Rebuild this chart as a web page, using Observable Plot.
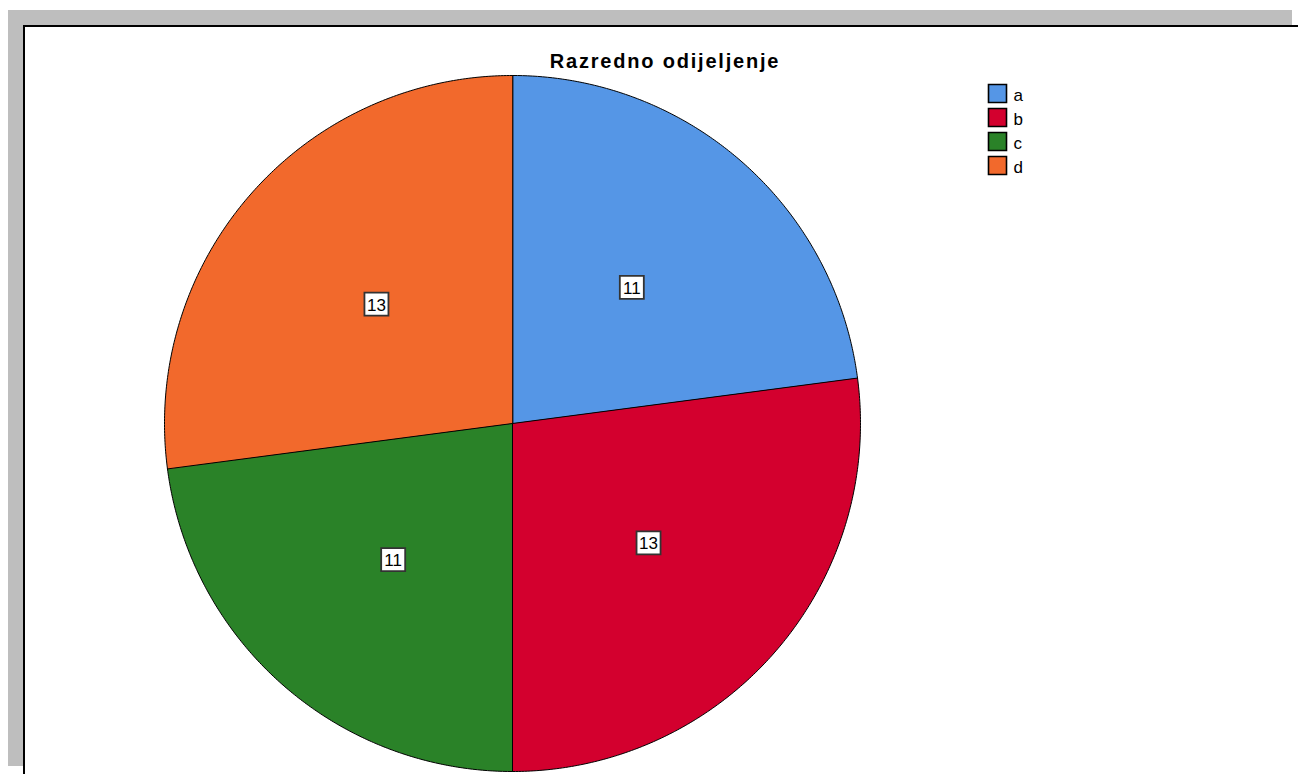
<!DOCTYPE html>
<html><head><meta charset="utf-8">
<script src="https://cdn.jsdelivr.net/npm/d3@7"></script>
<script src="https://cdn.jsdelivr.net/npm/@observablehq/plot@0.6"></script>
<style>
html,body{margin:0;padding:0;background:#fff;overflow:hidden;}
#page{position:relative;width:1298px;height:774px;overflow:hidden;font-family:"Liberation Sans",Arial,sans-serif;}
.gray-top{position:absolute;left:8px;top:10px;width:1284px;height:15px;background:#bebebe;}
.gray-left{position:absolute;left:8px;top:10px;width:15px;height:756px;background:#bebebe;}
.black-top{position:absolute;left:23px;top:25px;width:1275px;height:2px;background:#000;}
.black-left{position:absolute;left:23px;top:25px;width:2px;height:749px;background:#000;}
#chart{position:absolute;left:0;top:0;}
#legend{position:absolute;left:988px;top:80px;}
#title{position:absolute;left:665px;top:51px;transform:translateX(-50%);white-space:nowrap;font-weight:bold;font-size:20px;line-height:20px;letter-spacing:1.8px;color:#000;}
</style>
</head><body>
<div id="page">
  <div class="gray-top"></div>
  <div class="gray-left"></div>
  <div id="chart"></div>
  <div class="black-top"></div>
  <div class="black-left"></div>
  <div id="title">Razredno odijeljenje</div>
  <div id="legend"></div>
</div>
<script>
const categories = ["a", "b", "c", "d"];
const counts = [11, 13, 11, 13];
const colors = ["#5596e6", "#d3002e", "#2a8228", "#f2692c"];
const title = "Razredno odijeljenje";

const cx = 512, cy = 423, R = 348;

const arcs = d3.pie().sort(null).value((d, i) => counts[i])(categories);

// Build slice polygons in unit-circle coordinates (y up), clockwise from 12 o'clock
const slicePoints = [];
arcs.forEach((a, i) => {
  const key = categories[i];
  slicePoints.push({key, x: 0, y: 0});
  const n = 200;
  for (let k = 0; k <= n; k++) {
    const t = a.startAngle + (a.endAngle - a.startAngle) * k / n;
    slicePoints.push({key, x: Math.sin(t), y: Math.cos(t)});
  }
});

const labels = arcs.map((a, i) => {
  const m = (a.startAngle + a.endAngle) / 2;
  return {key: categories[i], value: counts[i], x: 0.52 * Math.sin(m), y: 0.52 * Math.cos(m)};
});

const boxSymbol = {
  draw(context, size) {
    context.rect(-12, -11.5, 24, 23);
  }
};

const chart = Plot.plot({
  width: 1298,
  height: 774,
  margin: 0,
  style: {background: "transparent", overflow: "visible"},
  x: {domain: [-1, 1], range: [cx - R, cx + R], axis: null},
  y: {domain: [-1, 1], range: [cy + R, cy - R], axis: null},
  color: {domain: categories, range: colors},
  marks: [
    Plot.line(slicePoints, {x: "x", y: "y", z: "key", fill: "key", stroke: "#000", strokeWidth: 1, curve: "linear-closed"}),
    Plot.dot(labels, {x: "x", y: "y", symbol: boxSymbol, fill: "#fff", stroke: "#333", strokeWidth: 1.8}),
    Plot.text(labels, {x: "x", y: "y", dy: 1, text: d => String(d.value), fontSize: 17, fill: "#000", fontFamily: "Liberation Sans, Arial, sans-serif"})
  ]
});
document.getElementById("chart").appendChild(chart);

const swatchSymbol = {
  draw(context, size) {
    context.rect(-9, -9, 18, 18);
  }
};

const legend = Plot.plot({
  width: 60,
  height: 100,
  margin: 0,
  style: {background: "transparent", overflow: "visible"},
  x: {domain: [0, 1], range: [9, 69], axis: null},
  y: {type: "band", domain: categories, range: [0, 98], padding: 0, axis: null},
  color: {domain: categories, range: colors},
  marks: [
    Plot.dot(categories, {x: () => 0, y: d => d, symbol: swatchSymbol, fill: d => d, stroke: "#000", strokeWidth: 1.6}),
    Plot.text(categories, {x: () => 0, y: d => d, dx: 16, dy: 2, text: d => d, textAnchor: "start", fontSize: 17, fill: "#000", fontFamily: "Liberation Sans, Arial, sans-serif"})
  ]
});
document.getElementById("legend").appendChild(legend);
</script>
</body></html>
